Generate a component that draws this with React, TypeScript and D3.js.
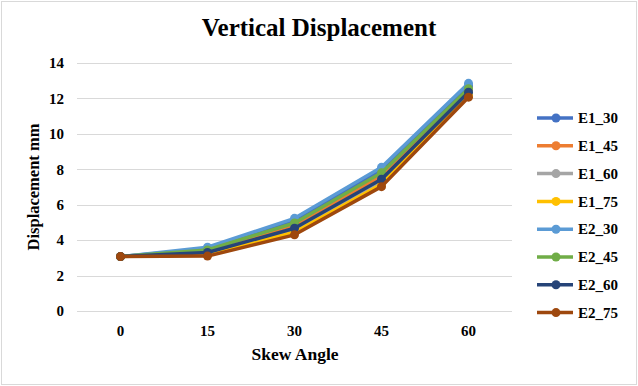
import { useEffect, useRef } from "react";
import * as d3 from "d3";

// skew angles on the category axis
const angles = ["0", "15", "30", "45", "60"];

const seriesNames = ["E1_30", "E1_45", "E1_60", "E1_75", "E2_30", "E2_45", "E2_60", "E2_75"];
const seriesColors = ["#4472C4", "#ED7D31", "#A5A5A5", "#FFC000", "#5B9BD5", "#70AD47", "#264478", "#9E480E"];

// vertical displacement (mm)
const e1_30 = [3.07, 3.5, 5.1, 7.95, 12.7];
const e1_45 = [3.07, 3.4, 4.85, 7.6, 12.45];
const e1_60 = [3.07, 3.3, 4.6, 7.35, 12.3];
const e1_75 = [3.07, 3.2, 4.45, 7.15, 12.2];
const e2_30 = [3.07, 3.6, 5.23, 8.11, 12.85];
const e2_45 = [3.07, 3.45, 4.97, 7.8, 12.55];
const e2_60 = [3.07, 3.3, 4.67, 7.44, 12.35];
const e2_75 = [3.07, 3.1, 4.3, 7.02, 12.07];
const seriesValues = [e1_30, e1_45, e1_60, e1_75, e2_30, e2_45, e2_60, e2_75];

const yTicks = [0, 2, 4, 6, 8, 10, 12, 14];

export default function App() {
  const svgRef = useRef<SVGSVGElement | null>(null);

  useEffect(() => {
    if (!svgRef.current) return;
    const width = 638;
    const height = 386;
    const margin = { top: 63, right: 126, bottom: 75, left: 77 };
    const font = "'Liberation Serif', 'Times New Roman', serif";

    const svg = d3.select(svgRef.current).attr("width", width).attr("height", height);
    svg.selectAll("*").remove();

    svg
      .append("rect")
      .attr("x", 1.5)
      .attr("y", 1.5)
      .attr("width", width - 3)
      .attr("height", height - 3)
      .attr("fill", "#fff")
      .attr("stroke", "#D9D9D9");

    const x = d3
      .scaleBand()
      .domain(angles)
      .range([margin.left, width - margin.right]);

    const y = d3
      .scaleLinear()
      .domain([0, 14])
      .range([height - margin.bottom, margin.top]);

    // gridlines
    svg
      .append("g")
      .selectAll("line")
      .data(yTicks)
      .join("line")
      .attr("x1", margin.left)
      .attr("x2", width - margin.right)
      .attr("y1", (d) => Math.round(y(d)) + 0.5)
      .attr("y2", (d) => Math.round(y(d)) + 0.5)
      .attr("stroke", "#D9D9D9")
      .attr("stroke-width", 1);

    // y tick labels
    svg
      .append("g")
      .selectAll("text")
      .data(yTicks)
      .join("text")
      .attr("x", 64)
      .attr("y", (d) => y(d))
      .attr("dy", "0.35em")
      .attr("text-anchor", "end")
      .attr("font-family", font)
      .attr("font-weight", "bold")
      .attr("font-size", 15)
      .attr("fill", "#000")
      .text((d) => d);

    // x tick labels
    svg
      .append("g")
      .selectAll("text")
      .data(angles)
      .join("text")
      .attr("x", (d) => (x(d) ?? 0) + x.bandwidth() / 2)
      .attr("y", 336)
      .attr("text-anchor", "middle")
      .attr("font-family", font)
      .attr("font-weight", "bold")
      .attr("font-size", 15)
      .attr("fill", "#000")
      .text((d) => d);

    const cx = (i: number) => (x(angles[i]) ?? 0) + x.bandwidth() / 2;

    const line = d3
      .line<number>()
      .x((_, i) => cx(i))
      .y((d) => y(d));

    seriesValues.forEach((vals, s) => {
      const g = svg.append("g");
      g.append("path")
        .datum(vals)
        .attr("fill", "none")
        .attr("stroke", seriesColors[s])
        .attr("stroke-width", 3.5)
        .attr("stroke-linejoin", "round")
        .attr("d", line);
      g.selectAll("circle")
        .data(vals)
        .join("circle")
        .attr("cx", (_, i) => cx(i))
        .attr("cy", (d) => y(d))
        .attr("r", 4.5)
        .attr("fill", seriesColors[s]);
    });

    // title
    svg
      .append("text")
      .attr("x", 319)
      .attr("y", 36)
      .attr("text-anchor", "middle")
      .attr("font-family", font)
      .attr("font-weight", "bold")
      .attr("font-size", 25)
      .attr("fill", "#000")
      .text("Vertical Displacement");

    // axis titles
    svg
      .append("text")
      .attr("x", 295)
      .attr("y", 360)
      .attr("text-anchor", "middle")
      .attr("font-family", font)
      .attr("font-weight", "bold")
      .attr("font-size", 17.5)
      .attr("fill", "#000")
      .text("Skew Angle");

    svg
      .append("text")
      .attr("transform", `translate(39,187) rotate(-90)`)
      .attr("text-anchor", "middle")
      .attr("font-family", font)
      .attr("font-weight", "bold")
      .attr("font-size", 16.5)
      .attr("fill", "#000")
      .text("Displacement mm");

    // legend
    const legend = svg
      .append("g")
      .selectAll("g")
      .data(seriesNames)
      .join("g")
      .attr("transform", (_, i) => `translate(537,${118 + i * 27.8})`);
    legend
      .append("line")
      .attr("x1", 0)
      .attr("x2", 36)
      .attr("stroke", (_, i) => seriesColors[i])
      .attr("stroke-width", 3.5);
    legend
      .append("circle")
      .attr("cx", 19)
      .attr("r", 4.5)
      .attr("fill", (_, i) => seriesColors[i]);
    legend
      .append("text")
      .attr("x", 41)
      .attr("dy", "0.35em")
      .attr("font-family", font)
      .attr("font-weight", "bold")
      .attr("font-size", 15)
      .attr("fill", "#000")
      .text((d) => d);
  }, []);

  return (
    <div style={{ position: "absolute", left: 0, top: 0 }}>
      <svg ref={svgRef} style={{ display: "block" }}></svg>
    </div>
  );
}
